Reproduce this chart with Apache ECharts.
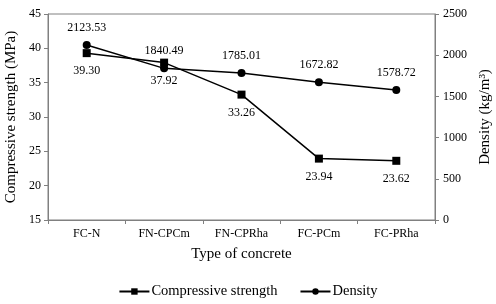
<!DOCTYPE html>
<html><head><meta charset="utf-8">
<script src="https://cdn.jsdelivr.net/npm/echarts@6/dist/echarts.min.js"></script>
<style>html,body{margin:0;padding:0;background:#fff}#c{width:496px;height:304px}</style>
</head><body><div id="c"></div>
<script>
var categories = ['FC-N','FN-CPCm','FN-CPRha','FC-PCm','FC-PRha'];
var strength = [39.30, 37.92, 33.26, 23.94, 23.62];
var density = [2123.53, 1840.49, 1785.01, 1672.82, 1578.72];
var FONT = '"Liberation Serif","Times New Roman",serif';
var axisColor = '#808080';
var chart = echarts.init(document.getElementById('c'));
chart.setOption({
  animation:false,
  backgroundColor:'#fff',
  textStyle:{fontFamily:FONT,color:'#000'},
  grid:{left:48,right:61,top:14,bottom:84,show:true,borderColor:axisColor,borderWidth:1,
    containLabel:false,outerBoundsMode:'none'},
  legend:{bottom:0,left:'center',itemWidth:30,itemHeight:8,itemGap:22,
    textStyle:{fontFamily:FONT,fontSize:14.5,color:'#000',padding:[0,0,0,-3]},
    data:['Compressive strength','Density']},
  xAxis:{type:'category',data:categories,boundaryGap:true,
    name:'Type of concrete',nameLocation:'middle',nameGap:27,
    nameTextStyle:{fontFamily:FONT,fontSize:15,color:'#000'},
    axisLine:{lineStyle:{color:axisColor}},
    axisTick:{show:true,alignWithLabel:false,length:4,lineStyle:{color:axisColor}},
    axisLabel:{fontFamily:FONT,fontSize:12,color:'#000',margin:8},
    splitLine:{show:false}},
  yAxis:[{type:'value',min:15,max:45,interval:5,position:'left',
    name:'Compressive strength (MPa)',nameLocation:'middle',nameGap:28,nameRotate:90,
    nameTextStyle:{fontFamily:FONT,fontSize:15,color:'#000'},
    axisLine:{show:true,lineStyle:{color:axisColor}},
    axisTick:{show:true,length:4,lineStyle:{color:axisColor}},
    axisLabel:{fontFamily:FONT,fontSize:12,color:'#000',margin:7},
    splitLine:{show:false}},
   {type:'value',min:0,max:2500,interval:500,position:'right',
    name:'Density (kg/m³)',nameLocation:'middle',nameGap:43,nameRotate:90,
    nameTextStyle:{fontFamily:FONT,fontSize:15,color:'#000'},
    axisLine:{show:true,lineStyle:{color:axisColor}},
    axisTick:{show:true,length:4,lineStyle:{color:axisColor}},
    axisLabel:{fontFamily:FONT,fontSize:12,color:'#000',margin:8,formatter:function(v){return String(v);}},
    splitLine:{show:false}}],
  series:[
    {name:'Compressive strength',type:'line',yAxisIndex:0,data:strength,
     symbol:'rect',symbolSize:8,
     itemStyle:{color:'#000'},lineStyle:{color:'#000',width:1.5},
     label:{show:true,position:'bottom',distance:8,formatter:function(p){return p.value.toFixed(2);},
       fontFamily:FONT,fontSize:12,color:'#000'}},
    {name:'Density',type:'line',yAxisIndex:1,data:density,
     symbol:'circle',symbolSize:8,
     itemStyle:{color:'#000'},lineStyle:{color:'#000',width:1.5},
     label:{show:true,position:'top',distance:7,formatter:function(p){return p.value.toFixed(2);},
       fontFamily:FONT,fontSize:12,color:'#000'}}
  ]
});
</script></body></html>
